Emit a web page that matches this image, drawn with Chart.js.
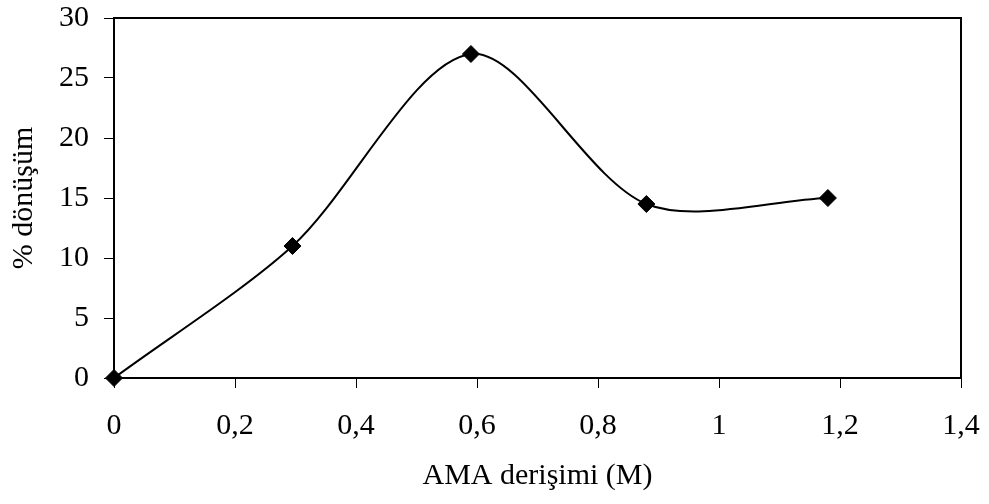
<!DOCTYPE html>
<html>
<head>
<meta charset="utf-8">
<script src="https://cdn.jsdelivr.net/npm/chart.js@4/dist/chart.umd.min.js"></script>
<style>
  html, body { margin: 0; padding: 0; background: #fff; }
  #wrap { width: 989px; height: 504px; }
</style>
</head>
<body>
<div id="wrap"><canvas id="c" width="989" height="504"></canvas></div>
<script>
// Data
const concentrations = [0, 0.295, 0.59, 0.88, 1.18];   // AMA derişimi (M)
const conversions    = [0, 11, 27, 14.5, 15];          // % dönüşüm
const xTickValues = [0, 0.2, 0.4, 0.6, 0.8, 1, 1.2, 1.4];
const xTickLabels = ['0', '0,2', '0,4', '0,6', '0,8', '1', '1,2', '1,4'];
const yTickLabels = ['0', '5', '10', '15', '20', '25', '30'];
const xTitle = 'AMA derişimi (M)';
const yTitle = '% dönüşüm';

const FONT = '"Liberation Serif", "Times New Roman", serif';
const fontSize = 30;

const framePlugin = {
  id: 'frame',
  afterDatasetsDraw(chart) {
    const {ctx, chartArea: a} = chart;
    ctx.save();
    ctx.strokeStyle = '#000';
    ctx.lineWidth = 2;
    ctx.strokeRect(a.left, a.top, a.right - a.left, a.bottom - a.top);
    ctx.restore();
  }
};

const points = concentrations.map((x, i) => ({x: x, y: conversions[i]}));

new Chart(document.getElementById('c'), {
  type: 'line',
  data: {
    datasets: [{
      data: points,
      borderColor: '#000',
      borderWidth: 2,
      tension: 0.3,
      pointStyle: 'rectRot',
      pointRadius: 8.5,
      pointBackgroundColor: '#000',
      pointBorderColor: '#000',
      pointBorderWidth: 1,
      fill: false,
      clip: false
    }]
  },
  plugins: [framePlugin],
  options: {
    responsive: false,
    animation: false,
    devicePixelRatio: 1,
    layout: { padding: { top: 18, right: 28, left: 0, bottom: 0 } },
    plugins: { legend: { display: false }, tooltip: { enabled: false } },
    scales: {
      x: {
        type: 'linear',
        min: 0, max: 1.4,
        afterBuildTicks(scale) { scale.ticks = xTickValues.map(v => ({value: v})); },
        afterFit(scale) { scale.height = 126; scale.paddingLeft = 0; scale.paddingRight = 0; },
        grid: { display: true, drawOnChartArea: false, drawTicks: true, tickLength: 10, color: '#000', lineWidth: 1 },
        border: { display: true, color: '#000', width: 2 },
        ticks: {
          padding: 20,
          color: '#000',
          font: { family: FONT, size: fontSize },
          maxRotation: 0,
          callback: (v) => { const i = xTickValues.findIndex(t => Math.abs(t - v) < 1e-9); return i >= 0 ? xTickLabels[i] : ''; }
        },
        title: { display: true, text: xTitle, color: '#000', font: { family: FONT, size: fontSize }, padding: { top: 0, bottom: 10 } }
      },
      y: {
        type: 'linear',
        min: 0, max: 30,
        ticks: {
          stepSize: 5,
          padding: 15,
          color: '#000',
          font: { family: FONT, size: fontSize },
          callback: (v) => yTickLabels[Math.round(v / 5)] ?? ''
        },
        afterFit(scale) { scale.width = 114; scale.paddingTop = 0; scale.paddingBottom = 0; },
        grid: { display: true, drawOnChartArea: false, drawTicks: true, tickLength: 10, color: '#000', lineWidth: 1 },
        border: { display: true, color: '#000', width: 2 },
        title: { display: true, text: yTitle, color: '#000', font: { family: FONT, size: fontSize }, padding: { top: 6, bottom: 0 } }
      }
    }
  }
});
</script>
</body>
</html>
